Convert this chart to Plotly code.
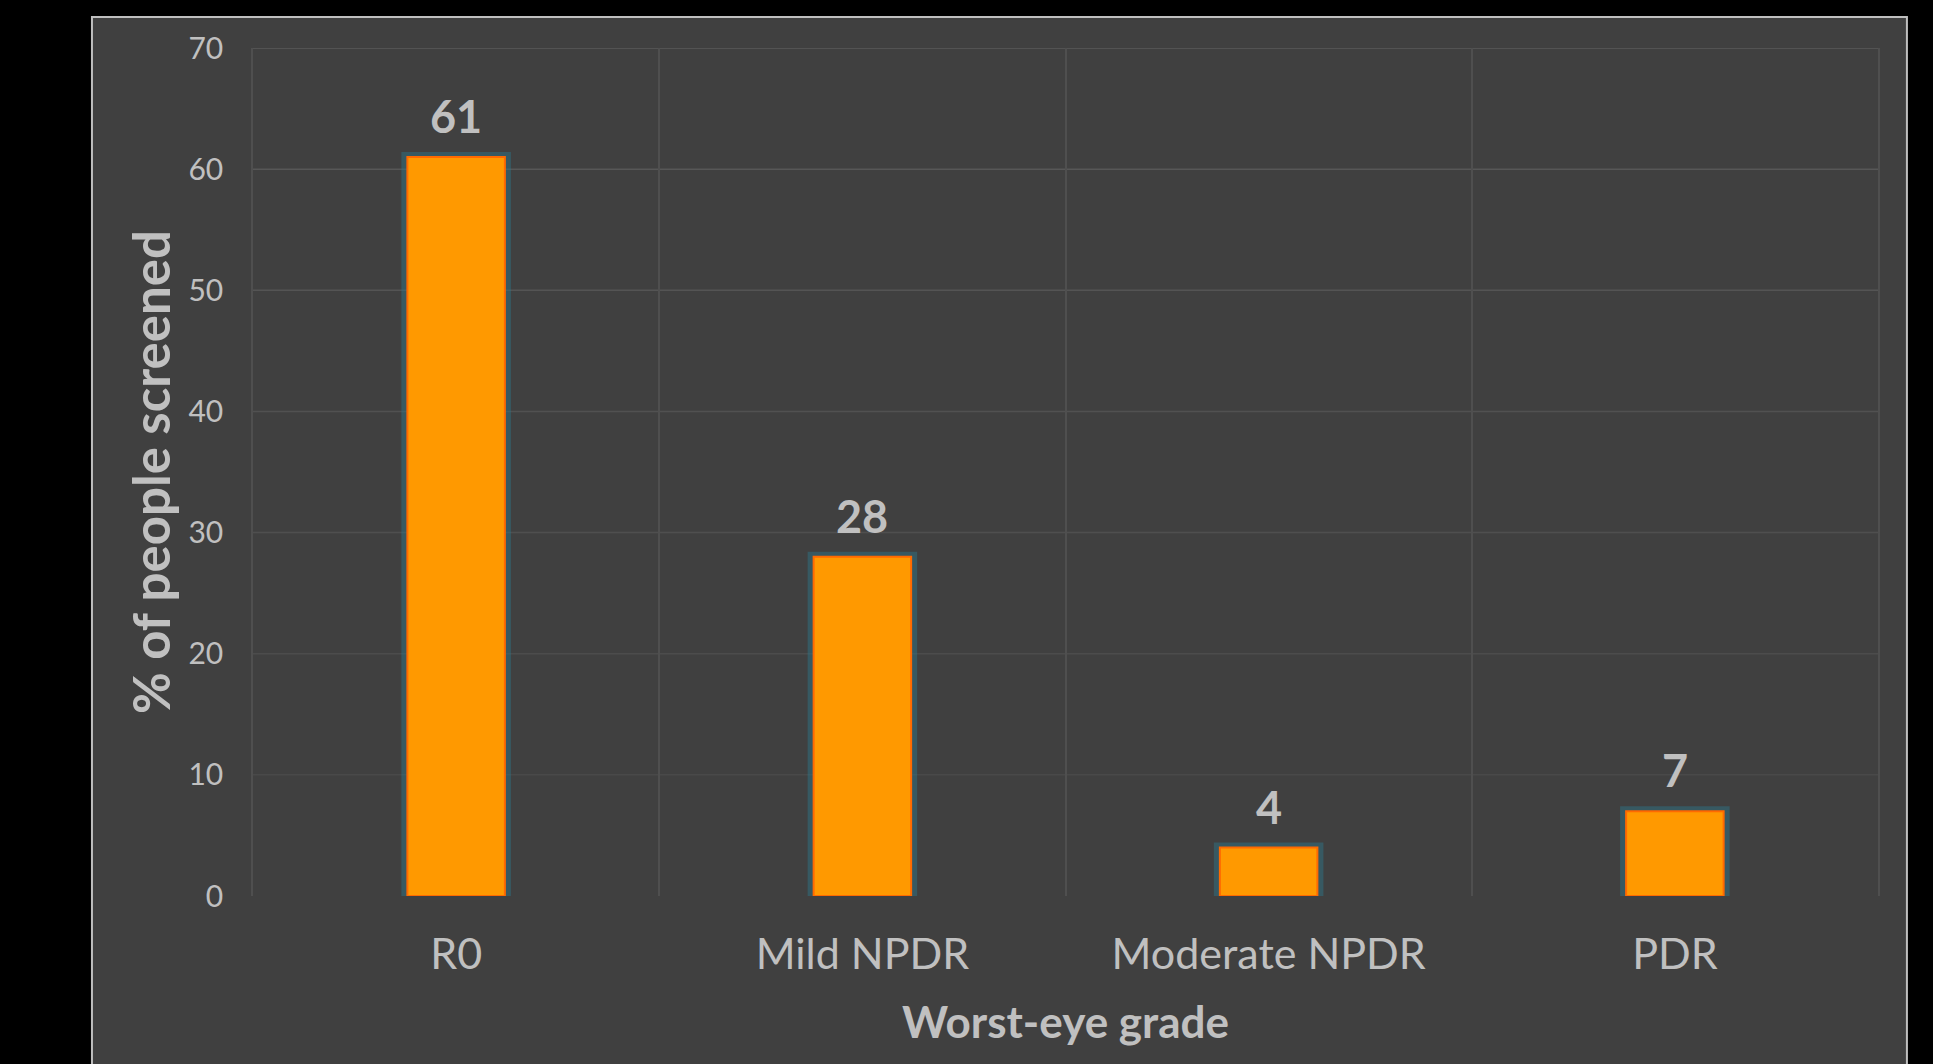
import plotly.graph_objects as go

categories = ["R0", "Mild NPDR", "Moderate NPDR", "PDR"]
values = [61, 28, 4, 7]
y_ticks = [0, 10, 20, 30, 40, 50, 60, 70]

FONT = "Lato"
TXT = "#C0C0C0"

fig = go.Figure()
# glow behind bars
fig.add_trace(go.Bar(
    x=categories, y=values, width=0.245,
    marker=dict(color="rgba(0,0,0,0)", line=dict(color="rgba(45,120,140,0.45)", width=10)),
    hoverinfo="skip", showlegend=False,
))
fig.add_trace(go.Bar(
    x=categories, y=values, width=0.24,
    marker=dict(color="#FF9900", line=dict(color="#FF6A00", width=2)),
    showlegend=False,
))

for c, v in zip(categories, values):
    fig.add_annotation(x=c, y=v, text=f"<b>{v}</b>", showarrow=False,
                       yanchor="bottom", yshift=12,
                       font=dict(family=FONT, size=45, color=TXT))

shapes = [dict(type="rect", xref="paper", yref="paper",
               x0=-0.0991, x1=1.0178, y0=-0.21, y1=1.0366,
               fillcolor="#404040", line=dict(color="#BFBFBF", width=2),
               layer="below")]
# horizontal gridlines fading towards the bottom
top = max(y_ticks)
for t in y_ticks[1:]:
    f = t / top
    g = int(round(0x46 + (0x5a - 0x46) * f))
    shapes.append(dict(type="line", xref="paper", yref="y", x0=0, x1=1, y0=t, y1=t,
                       line=dict(color=f"rgb({g},{g},{g})", width=1.5), layer="below"))

fig.update_layout(
    width=1933, height=1064,
    margin=dict(l=253, r=55, t=48, b=168),
    paper_bgcolor="#000000",
    plot_bgcolor="rgba(0,0,0,0)",
    barmode="overlay",
    font=dict(family=FONT, color=TXT),
    shapes=shapes,
    xaxis=dict(
        type="category", tickson="boundaries", showgrid=True,
        gridcolor="#4f4f4f", gridwidth=1.5, ticks="",
        showline=False,
        ticklabelstandoff=29,
        tickfont=dict(family=FONT, size=43, color=TXT),
        title=dict(text="<b>Worst-eye grade</b>", standoff=30,
                   font=dict(family=FONT, size=44, color=TXT)),
        range=[-0.5, 3.5],
    ),
    yaxis=dict(
        range=[0, 70], tickvals=y_ticks, showgrid=False,
        zeroline=False, ticks="",
        showline=True, mirror=True, linecolor="#4f4f4f", linewidth=1.5,
        ticklabelstandoff=22,
        tickfont=dict(family=FONT, size=30, color=TXT),
        title=dict(text="<b>% of people screened</b>", standoff=2,
                   font=dict(family=FONT, size=51, color=TXT)),
    ),
)

fig.write_html("out.html")
